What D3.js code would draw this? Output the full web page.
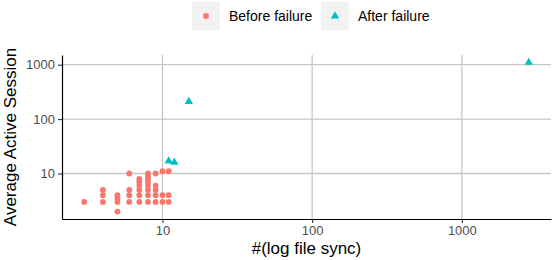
<!DOCTYPE html>
<html>
<head>
<meta charset="utf-8">
<script src="https://cdn.jsdelivr.net/npm/d3@7"></script>
<style>
  body { margin: 0; background: #fff; }
  text { font-family: "Liberation Sans", Arial, sans-serif; }
</style>
</head>
<body>
<div id="hook"></div>
<script>
// Data: log file sync count vs. average active session
var beforeX = [3, 4,4,4, 5,5,5,5, 6,6,6,6, 7,7,7,7,7,7, 8,8,8,8,8,8,8,8, 9,9,9,9,9, 10,10,10, 11,11,11];
var beforeY = [3, 5,4,3, 4,3.5,3,2, 10,5,4,3, 8,7,6,5,4,3, 10,9,8,7,6,5,4,3, 10,6,5,4,3, 11,4,3, 11,4,3];
var afterX = [11, 12, 15, 2800];
var afterY = [17, 16, 210, 1100];
var seriesNames = ["Before failure", "After failure"];
var seriesColors = ["#F8766D", "#00BFC4"];
var xTicks = [10, 100, 1000];
var yTicks = [10, 100, 1000];

var W = 554, H = 260;
var pLeft = 62, pRight = 551, pTop = 55, pBottom = 219;

var svg = d3.select("#hook").append("svg")
    .attr("width", W)
    .attr("height", H);

// ggplot-like 5% expansion on log scale
function expand(vals) {
    var e = d3.extent(vals, function(v) { return Math.log10(v) });
    var pad = (e[1] - e[0]) * 0.05;
    return [Math.pow(10, e[0] - pad), Math.pow(10, e[1] + pad)];
}
var allX = beforeX.concat(afterX), allY = beforeY.concat(afterY);
var x = d3.scaleLog().domain(expand(allX)).range([pLeft, pRight]);
var y = d3.scaleLog().domain(expand(allY)).range([pBottom, pTop]);

// grid
svg.selectAll("line.gx").data(xTicks).enter().append("line")
    .attr("x1", function(d) { return x(d) }).attr("x2", function(d) { return x(d) })
    .attr("y1", pTop).attr("y2", pBottom)
    .attr("stroke", "#c6c6c6").attr("stroke-width", 1.3);
svg.selectAll("line.gy").data(yTicks).enter().append("line")
    .attr("y1", function(d) { return y(d) }).attr("y2", function(d) { return y(d) })
    .attr("x1", pLeft).attr("x2", pRight)
    .attr("stroke", "#c6c6c6").attr("stroke-width", 1.3);

// axes
var xAxis = svg.append("g").attr("transform", "translate(0," + pBottom + ")")
    .call(d3.axisBottom(x).tickValues(xTicks).tickFormat(d3.format("d")).tickSizeInner(4).tickSizeOuter(0).tickPadding(3));
var yAxis = svg.append("g").attr("transform", "translate(" + pLeft + ",0)")
    .call(d3.axisLeft(y).tickValues(yTicks).tickFormat(d3.format("d")).tickSizeInner(4).tickSizeOuter(0).tickPadding(3));
[xAxis, yAxis].forEach(function(g) {
    g.select(".domain").attr("stroke", "#000").attr("stroke-width", 1.2);
    g.selectAll(".tick line").attr("stroke", "#333").attr("stroke-width", 1.1);
    g.selectAll(".tick text").attr("fill", "#4d4d4d").style("font-size", "13px")
        .style("font-family", "Liberation Sans, Arial, sans-serif");
});

// points
var before = beforeX.map(function(v, i) { return [v, beforeY[i]] });
var after = afterX.map(function(v, i) { return [v, afterY[i]] });
svg.selectAll("circle.pt").data(before).enter().append("circle")
    .attr("cx", function(d) { return x(d[0]) })
    .attr("cy", function(d) { return y(d[1]) })
    .attr("r", 2.9)
    .attr("fill", seriesColors[0]);
var tri = d3.symbol().type(d3.symbolTriangle).size(30);
svg.selectAll("path.pt").data(after).enter().append("path")
    .attr("d", tri)
    .attr("transform", function(d) { return "translate(" + x(d[0]) + "," + y(d[1]) + ")" })
    .attr("fill", seriesColors[1]);

// axis titles
svg.append("text").attr("x", (pLeft + pRight) / 2).attr("y", 254)
    .attr("text-anchor", "middle").style("font-size", "17px").attr("fill", "#000")
    .text("#(log file sync)");
svg.append("text").attr("transform", "translate(16," + ((pTop + pBottom) / 2) + ") rotate(-90)")
    .attr("text-anchor", "middle").style("font-size", "17px").attr("fill", "#000")
    .text("Average Active Session");

// legend
var keyX = [192, 321];
var lg = svg.selectAll("g.lg").data(seriesNames).enter().append("g")
    .attr("transform", function(d, i) { return "translate(" + keyX[i] + ",2)" });
lg.append("rect").attr("width", 28).attr("height", 28).attr("fill", "#f2f2f2");
lg.each(function(d, i) {
    var g = d3.select(this);
    if (i == 0) g.append("circle").attr("cx", 14).attr("cy", 14).attr("r", 2.9).attr("fill", seriesColors[0]);
    else g.append("path").attr("d", tri).attr("transform", "translate(14,14)").attr("fill", seriesColors[1]);
});
lg.append("text").attr("x", 37).attr("y", 19).style("font-size", "14px").attr("fill", "#000")
    .text(function(d) { return d });
</script>
</body>
</html>
